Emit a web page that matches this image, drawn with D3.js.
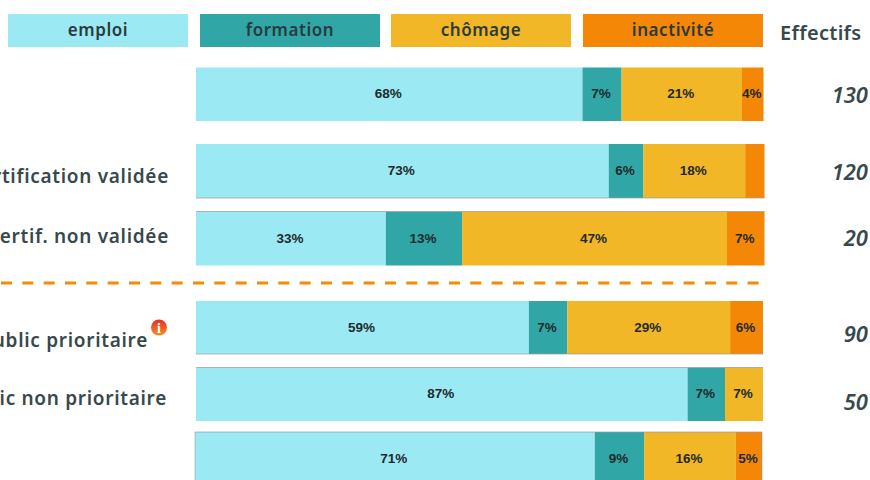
<!DOCTYPE html>
<html>
<head>
<meta charset="utf-8">
<script src="https://cdn.jsdelivr.net/npm/d3@7"></script>
<style>
  html, body { margin: 0; padding: 0; background: #fff; overflow: hidden; }
  svg { display: block; }
</style>
</head>
<body>
<div id="chart"></div>
<script>
var svgWidth = 870;
var svgHeight = 480;

// Data
var categories = ["emploi", "formation", "chômage", "inactivité"];
var rowNames = ["Ensemble", "Certification validée", "Certif. non validée", "Public prioritaire", "Public non prioritaire", "Total"];
var rowLabels = ["", "Certification validée", "Certif. non validée", "Public prioritaire", "Public non prioritaire", ""];
var effectifs = ["130", "120", "20", "90", "50", ""];

var emploi = [68.1, 72.6, 33.4, 58.7, 86.7, 70.5];
var formation = [6.9, 6.1, 13.4, 6.8, 6.6, 8.7];
var chomage = [21.2, 17.9, 46.6, 28.7, 6.7, 16.2];
var inactivite = [3.8, 3.4, 6.6, 5.8, 0, 4.6];

var emploiLabels = ["68%", "73%", "33%", "59%", "87%", "71%"];
var formationLabels = ["7%", "6%", "13%", "7%", "7%", "9%"];
var chomageLabels = ["21%", "18%", "47%", "29%", "7%", "16%"];
var inactiviteLabels = ["4%", "", "7%", "6%", "", "5%"];

var colors = ["#9be9f3", "#31a6a7", "#f2b726", "#f48806"];
var textColor = "#37494c";

// Layout: the rows are not evenly spaced in the original
var rowTops = [67.5, 144, 211.5, 301, 367.5, 432];
var rowBottoms = [121, 198, 265.5, 354, 421, 486];
var rowLeft = [196, 196, 196, 196, 196, 195];
var rowRight = [763.5, 764.5, 764.5, 763, 763, 762];
var labelBase = [0, 183, 242.5, 346.5, 405, 0];
var labelRight = [169, 169, 169, 148, 167, 169];
var numberBase = [103, 180, 246, 342, 410, 0];

var svg = d3.select("#chart")
  .append("svg")
  .attr("width", svgWidth)
  .attr("height", svgHeight);

var defs = svg.append("defs");
var grad = defs.append("linearGradient")
  .attr("id", "infoGrad")
  .attr("x1", 0).attr("y1", 0)
  .attr("x2", 0).attr("y2", 1);
grad.append("stop").attr("offset", "0%").attr("stop-color", "#e62e2a");
grad.append("stop").attr("offset", "100%").attr("stop-color", "#f68f1c");

// Legend
var legendX = d3.scaleOrdinal().domain(categories).range([8, 200, 391, 583]);
var legend = svg.selectAll(".legend")
  .data(categories)
  .enter()
  .append("g")
  .attr("class", "legend");

legend.append("rect")
  .attr("x", function(d) { return legendX(d); })
  .attr("y", 14)
  .attr("width", 180)
  .attr("height", 33)
  .attr("fill", function(d, i) { return colors[i]; });

legend.append("text")
  .attr("x", function(d) { return legendX(d) + 90; })
  .attr("y", 36)
  .attr("text-anchor", "middle")
  .attr("font-family", "'Noto Sans', sans-serif")
  .attr("font-weight", 600)
  .attr("font-size", "17px")
  .attr("letter-spacing", "0.55px")
  .attr("fill", "#2b3a3d")
  .text(function(d) { return d; });

svg.append("text")
  .attr("x", 780)
  .attr("y", 40)
  .attr("font-family", "'Noto Sans', sans-serif")
  .attr("font-weight", 600)
  .attr("font-size", "20px")
  .attr("letter-spacing", "0.3px")
  .attr("fill", textColor)
  .text("Effectifs");

// Stacked bars
var table = rowNames.map(function(name, i) {
  return { name: name, emploi: emploi[i], formation: formation[i], chomage: chomage[i], inactivite: inactivite[i] };
});
var stack = d3.stack().keys(["emploi", "formation", "chomage", "inactivite"]);
var series = stack(table);
var segmentLabels = [emploiLabels, formationLabels, chomageLabels, inactiviteLabels];

var rowScales = rowNames.map(function(name, i) {
  return d3.scaleLinear().domain([0, 100]).range([rowLeft[i], rowRight[i]]);
});

series.forEach(function(layer, k) {
  var group = svg.append("g").attr("class", "layer");

  group.selectAll("rect")
    .data(layer)
    .enter()
    .append("rect")
    .attr("x", function(d, i) { return rowScales[i](d[0]); })
    .attr("y", function(d, i) { return rowTops[i]; })
    .attr("width", function(d, i) { return rowScales[i](d[1]) - rowScales[i](d[0]); })
    .attr("height", function(d, i) { return rowBottoms[i] - rowTops[i]; })
    .attr("fill", colors[k]);

  group.selectAll("text")
    .data(layer)
    .enter()
    .append("text")
    .attr("x", function(d, i) { return (rowScales[i](d[0]) + rowScales[i](d[1])) / 2 - 1; })
    .attr("y", function(d, i) { return (rowTops[i] + Math.min(rowBottoms[i], rowTops[i] + 54)) / 2 - 0.5; })
    .attr("dy", "0.35em")
    .attr("text-anchor", "middle")
    .attr("font-family", "'Liberation Sans', Arial, sans-serif")
    .attr("font-size", "13.5px")
    .attr("font-weight", "bold")
    .attr("fill", "#1f2a2c")
    .text(function(d, i) { return segmentLabels[k][i]; });
});

// Thin grey edges left on some of the bars
var topEdges = [2, 4, 5];
var bottomEdges = [1, 3];
var sideEdges = [5];
svg.selectAll(".topEdge")
  .data(topEdges)
  .enter()
  .append("line")
  .attr("class", "topEdge")
  .attr("x1", function(d) { return rowLeft[d]; })
  .attr("x2", function(d) { return rowRight[d]; })
  .attr("y1", function(d) { return rowTops[d]; })
  .attr("y2", function(d) { return rowTops[d]; })
  .attr("stroke", "#9a9a9a")
  .attr("stroke-opacity", 0.7);

svg.selectAll(".bottomEdge")
  .data(bottomEdges)
  .enter()
  .append("line")
  .attr("class", "bottomEdge")
  .attr("x1", function(d) { return rowLeft[d]; })
  .attr("x2", function(d) { return rowRight[d]; })
  .attr("y1", function(d) { return rowBottoms[d]; })
  .attr("y2", function(d) { return rowBottoms[d]; })
  .attr("stroke", "#9a9a9a")
  .attr("stroke-opacity", 0.7);

sideEdges.forEach(function(d) {
  [rowLeft[d], rowRight[d]].forEach(function(x) {
    svg.append("line")
      .attr("x1", x)
      .attr("x2", x)
      .attr("y1", rowTops[d])
      .attr("y2", rowBottoms[d])
      .attr("stroke", "#9a9a9a")
      .attr("stroke-opacity", 0.6);
  });
});

// Row labels, they run off the left side of the page
svg.selectAll(".rowLabel")
  .data(rowLabels)
  .enter()
  .append("text")
  .attr("class", "rowLabel")
  .attr("x", function(d, i) { return labelRight[i]; })
  .attr("y", function(d, i) { return labelBase[i]; })
  .attr("text-anchor", "end")
  .attr("font-family", "'Noto Sans', sans-serif")
  .attr("font-weight", 600)
  .attr("font-size", "19px")
  .attr("letter-spacing", "0.7px")
  .attr("fill", textColor)
  .text(function(d) { return d; });

// Effectifs
svg.selectAll(".effectif")
  .data(effectifs)
  .enter()
  .append("text")
  .attr("class", "effectif")
  .attr("x", 868)
  .attr("y", function(d, i) { return numberBase[i]; })
  .attr("text-anchor", "end")
  .attr("font-family", "'Noto Sans', sans-serif")
  .attr("font-style", "italic")
  .attr("font-weight", 600)
  .attr("font-size", "22px")
  .attr("fill", textColor)
  .text(function(d) { return d; });

// Dashed separator
svg.append("line")
  .attr("x1", 1)
  .attr("x2", 759)
  .attr("y1", 283)
  .attr("y2", 283)
  .attr("stroke", "#f68a00")
  .attr("stroke-width", 3)
  .attr("stroke-dasharray", "11 10.33");

// Info icon
var info = svg.append("g").attr("transform", "translate(159, 327.5)");
info.append("circle")
  .attr("r", 8)
  .attr("fill", "url(#infoGrad)");
info.append("text")
  .attr("y", 5)
  .attr("text-anchor", "middle")
  .attr("font-family", "'Liberation Serif', serif")
  .attr("font-weight", "bold")
  .attr("font-size", "14px")
  .attr("fill", "#fff")
  .text("i");
</script>
</body>
</html>
